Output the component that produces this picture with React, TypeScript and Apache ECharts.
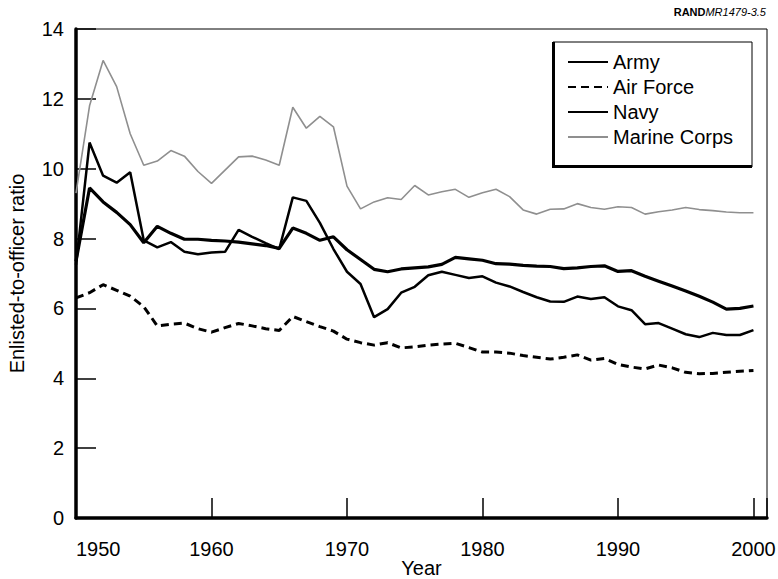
import React, { useEffect, useRef } from "react";
import * as echarts from "echarts";

const years = [
  1950, 1951, 1952, 1953, 1954, 1955, 1956, 1957, 1958, 1959,
  1960, 1961, 1962, 1963, 1964, 1965, 1966, 1967, 1968, 1969,
  1970, 1971, 1972, 1973, 1974, 1975, 1976, 1977, 1978, 1979,
  1980, 1981, 1982, 1983, 1984, 1985, 1986, 1987, 1988, 1989,
  1990, 1991, 1992, 1993, 1994, 1995, 1996, 1997, 1998, 1999, 2000,
];

const army = [
  7.25, 10.75, 9.8, 9.6, 9.9, 7.95, 7.75, 7.9, 7.62, 7.55,
  7.6, 7.62, 8.25, 8.05, 7.87, 7.7, 9.18, 9.08, 8.45, 7.7,
  7.05, 6.7, 5.75, 5.98, 6.45, 6.62, 6.95, 7.05, 6.96, 6.87,
  6.92, 6.74, 6.63, 6.47, 6.32, 6.2, 6.19, 6.34, 6.27, 6.32,
  6.06, 5.95, 5.55, 5.58, 5.42, 5.26, 5.18, 5.3, 5.24, 5.24, 5.38,
];

const airForce = [
  6.3, 6.45, 6.68, 6.52, 6.35, 6.05, 5.5, 5.55, 5.58, 5.42,
  5.32, 5.45, 5.57, 5.5, 5.42, 5.37, 5.77, 5.62, 5.48, 5.35,
  5.12, 5.02, 4.95, 5.02, 4.87, 4.9, 4.95, 4.98, 5.0, 4.88,
  4.75, 4.75, 4.72, 4.65, 4.6, 4.55, 4.6, 4.67, 4.52, 4.57,
  4.4, 4.32, 4.27, 4.38, 4.3, 4.17, 4.13, 4.14, 4.17, 4.2, 4.22,
];

const navy = [
  7.35, 9.45, 9.05, 8.75, 8.4, 7.88, 8.35, 8.15, 7.98, 7.98,
  7.95, 7.93, 7.9, 7.85, 7.8, 7.72, 8.3, 8.15, 7.95, 8.05,
  7.68, 7.4, 7.12, 7.05, 7.13, 7.16, 7.19, 7.26, 7.46, 7.42,
  7.38, 7.28, 7.27, 7.23, 7.21, 7.2, 7.14, 7.16, 7.2, 7.22,
  7.06, 7.08, 6.92, 6.78, 6.64, 6.5, 6.35, 6.18, 5.98, 6.0, 6.07,
];

const marineCorps = [
  9.3, 11.8, 13.1, 12.35, 11.0, 10.1, 10.22, 10.52, 10.36, 9.92,
  9.58, 9.96, 10.34, 10.36, 10.25, 10.1, 11.76, 11.16, 11.5, 11.2,
  9.5, 8.85, 9.05, 9.17, 9.12, 9.52, 9.25, 9.34, 9.41, 9.18,
  9.31, 9.41, 9.2, 8.82, 8.7, 8.84, 8.85, 9.0, 8.89, 8.84,
  8.91, 8.89, 8.7, 8.77, 8.82, 8.89, 8.83, 8.8, 8.76, 8.74, 8.74,
];

const seriesNames = ["Army", "Air Force", "Navy", "Marine Corps"];
const xTicks = [1950, 1960, 1970, 1980, 1990, 2000];

const FONT = "'Liberation Sans', Arial, Helvetica, sans-serif";

export default function App() {
  const ref = useRef<HTMLDivElement>(null);

  useEffect(() => {
    document.body.style.margin = "0";
    if (!ref.current) return;
    const chart = echarts.init(ref.current, undefined, { renderer: "svg" });
    const pairs = (vals: number[]) => years.map((y, i) => [y, vals[i]]);

    const option: any = {
      animation: false,
      backgroundColor: "#ffffff",
      textStyle: { fontFamily: FONT, color: "#000" },
      grid: {
        left: 76,
        right: 11,
        top: 29,
        bottom: 61,
        show: true,
        borderColor: "#000",
        borderWidth: 1,
        backgroundColor: "transparent",
        containLabel: false,
        outerBoundsMode: "none",
      },
      xAxis: {
        type: "value",
        min: 1950,
        max: 2001,
        interval: 10,
        name: "Year",
        nameLocation: "middle",
        nameGap: 40,
        nameMoveOverlap: false,
        nameTextStyle: { fontSize: 20, color: "#000", fontFamily: FONT },
        axisLine: { lineStyle: { color: "#000", width: 3.5 } },
        axisTick: { inside: true, length: 20, lineStyle: { color: "#000", width: 1.5 } },
        axisLabel: {
          fontSize: 20,
          color: "#000",
          margin: 21,
          fontFamily: FONT,
          alignMinLabel: "left",
          formatter: (v: number) => (xTicks.indexOf(v) >= 0 ? String(v) : ""),
        },
        splitLine: { show: false },
      },
      yAxis: {
        type: "value",
        min: 0,
        max: 14,
        interval: 2,
        name: "Enlisted-to-officer ratio",
        nameLocation: "middle",
        nameGap: 49,
        nameMoveOverlap: false,
        nameTextStyle: { fontSize: 20, color: "#000", fontFamily: FONT },
        axisLine: { show: true, lineStyle: { color: "#000", width: 3.5 } },
        axisTick: { show: true, inside: true, length: 20, lineStyle: { color: "#000", width: 1.5 } },
        axisLabel: { fontSize: 20, color: "#000", margin: 12, fontFamily: FONT },
        splitLine: { show: false },
      },
      legend: {
        orient: "vertical",
        left: 562,
        top: 47,
        itemWidth: 40,
        itemHeight: 14,
        itemGap: 5,
        data: seriesNames,
        itemStyle: { opacity: 0 },
        textStyle: { fontSize: 20, color: "#000", fontFamily: FONT },
      },
      graphic: [
        {
          type: "rect",
          z: 1,
          shape: { x: 553, y: 42, width: 199, height: 125 },
          style: { fill: "#fff", stroke: "#000", lineWidth: 1 },
        },
        { type: "rect", z: 1, shape: { x: 552, y: 42, width: 3, height: 126 }, style: { fill: "#000" } },
        { type: "rect", z: 1, shape: { x: 552, y: 165, width: 200, height: 3 }, style: { fill: "#000" } },
        {
          type: "text",
          right: 12,
          top: 6,
          style: {
            text: "{a|RAND}{b|MR1479-3.5}",
            rich: {
              a: { fontSize: 11, fontWeight: "bold", fill: "#000", fontFamily: FONT },
              b: { fontSize: 11, fontStyle: "italic", fill: "#000", fontFamily: FONT },
            },
          },
        },
      ],
      series: [
        {
          name: "Army",
          type: "line",
          data: pairs(army),
          symbol: "none",
          color: "#000",
          lineStyle: { color: "#000", width: 2.5 },
        },
        {
          name: "Air Force",
          type: "line",
          data: pairs(airForce),
          symbol: "none",
          color: "#000",
          lineStyle: { color: "#000", width: 3, type: [8, 5] },
        },
        {
          name: "Navy",
          type: "line",
          data: pairs(navy),
          symbol: "none",
          color: "#000",
          lineStyle: { color: "#000", width: 3.2 },
        },
        {
          name: "Marine Corps",
          type: "line",
          data: pairs(marineCorps),
          symbol: "none",
          color: "#8f8f8f",
          lineStyle: { color: "#8f8f8f", width: 1.6 },
        },
      ],
    };

    chart.setOption(option);
    return () => chart.dispose();
  }, []);

  return <div ref={ref} style={{ width: 778, height: 579 }} />;
}
